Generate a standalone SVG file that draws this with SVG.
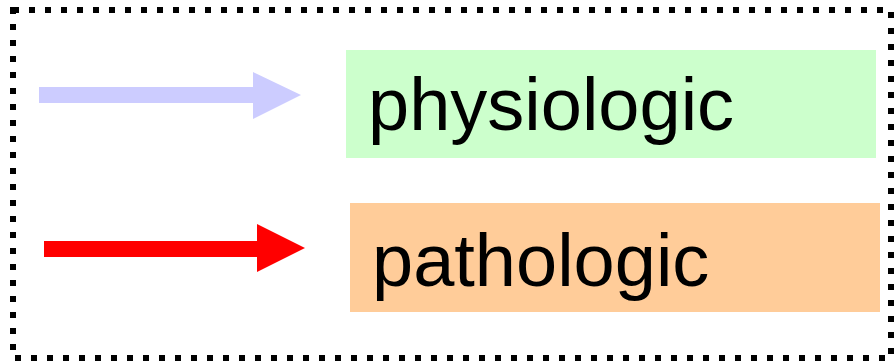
<svg xmlns="http://www.w3.org/2000/svg" width="895" height="363" viewBox="0 0 895 363">
<style>
.lbl{font-family:"Liberation Sans",Arial,sans-serif;font-size:74px;fill:#000}
</style>
<rect width="895" height="363" fill="#fff"/>
<rect x="13" y="10" width="878" height="348" fill="none" stroke="#000" stroke-width="6" stroke-dasharray="6 10"/>
<g id="connectors">
<polygon id="arrow-physiologic" points="39,87 253,87 253,72 301,95 253,119 253,103 39,103" fill="#CCCCFF"/>
<polygon id="arrow-pathologic" points="44,241 257,241 257,224 305,248 257,272 257,257 44,257" fill="#FF0000"/>
</g>
<g id="physiologic">
<rect x="346" y="50" width="530" height="108" fill="#CCFFCC"/>
<text class="lbl" x="368" y="130">physiologic</text>
</g>
<g id="pathologic">
<rect x="350" y="203" width="530" height="109" fill="#FFCC99"/>
<text class="lbl" x="372" y="286">pathologic</text>
</g>
</svg>
